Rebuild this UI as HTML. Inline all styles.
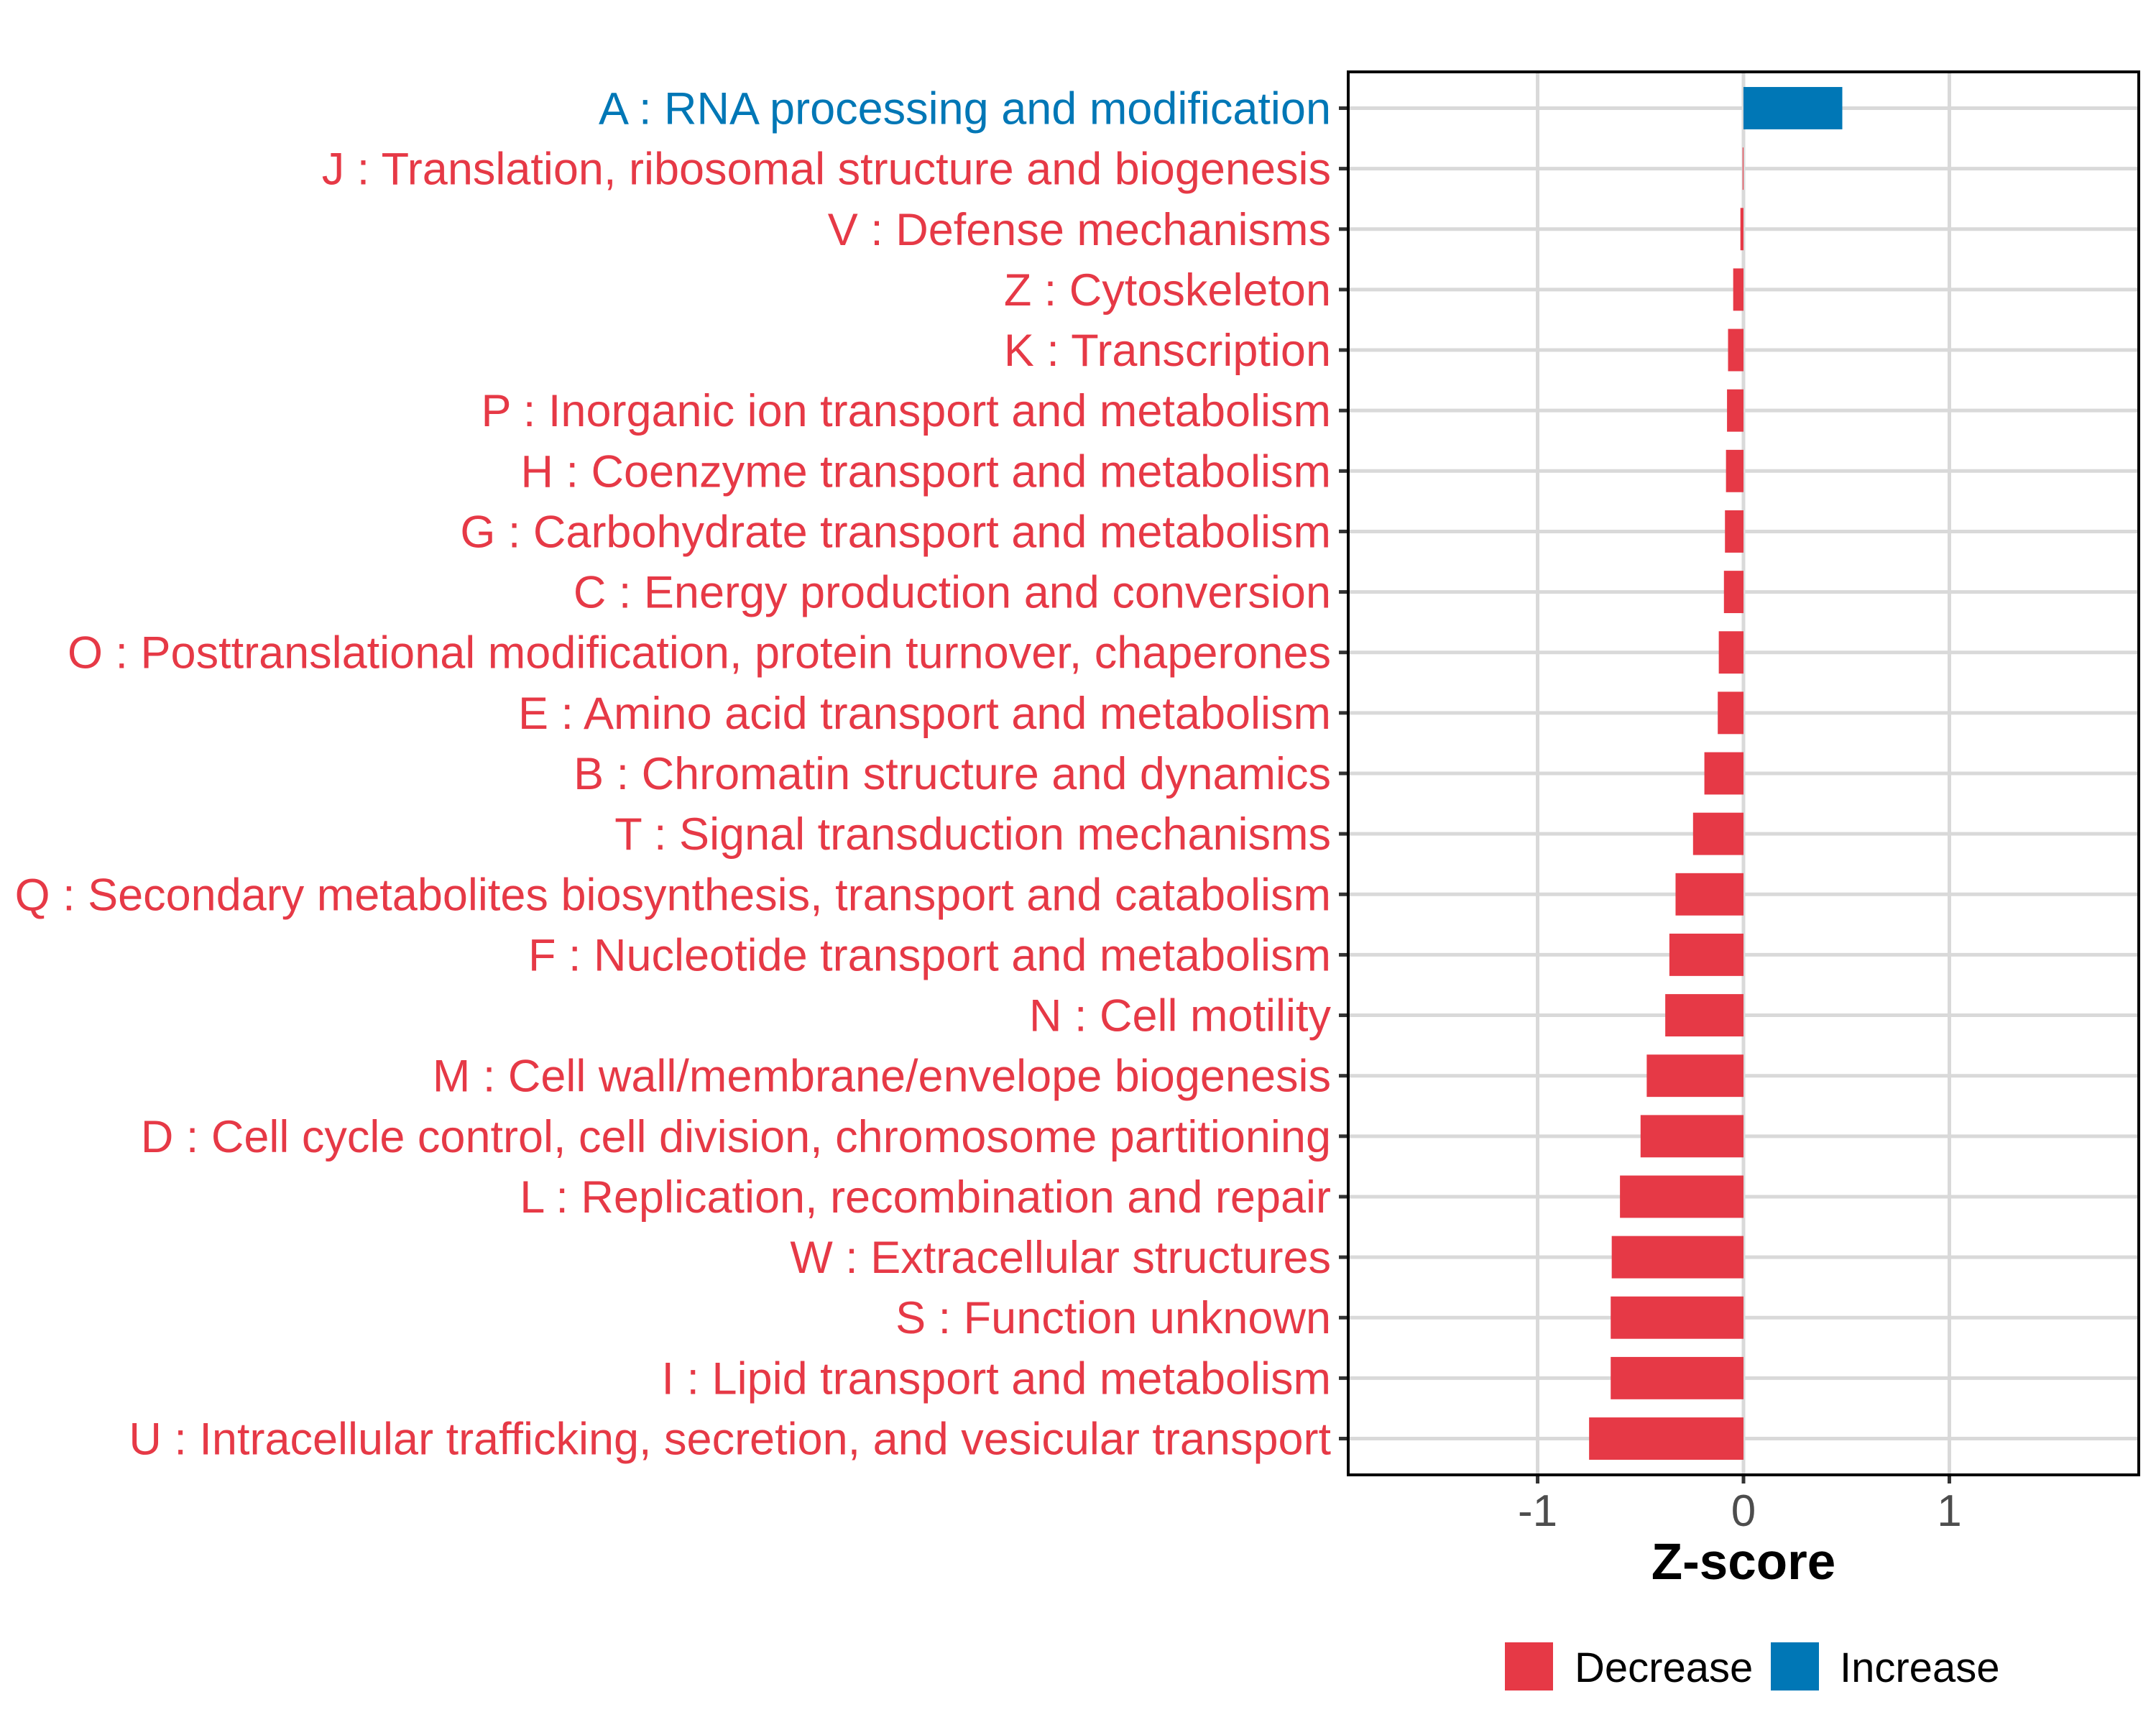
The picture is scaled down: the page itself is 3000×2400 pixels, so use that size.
<!DOCTYPE html>
<html><head><meta charset="utf-8"><style>
html,body{margin:0;padding:0;background:#fff;}
svg{display:block;font-family:"Liberation Sans",Arial,sans-serif;}
</style></head><body>
<svg id="chart" width="3000" height="2400" viewBox="0 0 3000 2400" xmlns="http://www.w3.org/2000/svg">
<rect x="0" y="0" width="3000" height="2400" fill="#fff"/>
<g id="grid"></g>
<g id="bars"></g>
<g id="ylabels"></g>
<g id="xaxis"></g>
<rect x="1876" y="100" width="1100" height="1952" fill="none" stroke="#000" stroke-width="4"/>
<text x="2426" y="2197" font-size="71" font-weight="bold" text-anchor="middle" fill="#000">Z-score</text>
<g>
<rect x="2094" y="2285" width="67" height="67" fill="#E63946"/>
<text x="2191" y="2340" font-size="58" fill="#000">Decrease</text>
<rect x="2464" y="2285" width="67" height="67" fill="#0077B6"/>
<text x="2560" y="2340" font-size="58" fill="#000">Increase</text>
</g>
</svg>
<script>
const categories = [
"A : RNA processing and modification",
"J : Translation, ribosomal structure and biogenesis",
"V : Defense mechanisms",
"Z : Cytoskeleton",
"K : Transcription",
"P : Inorganic ion transport and metabolism",
"H : Coenzyme transport and metabolism",
"G : Carbohydrate transport and metabolism",
"C : Energy production and conversion",
"O : Posttranslational modification, protein turnover, chaperones",
"E : Amino acid transport and metabolism",
"B : Chromatin structure and dynamics",
"T : Signal transduction mechanisms",
"Q : Secondary metabolites biosynthesis, transport and catabolism",
"F : Nucleotide transport and metabolism",
"N : Cell motility",
"M : Cell wall/membrane/envelope biogenesis",
"D : Cell cycle control, cell division, chromosome partitioning",
"L : Replication, recombination and repair",
"W : Extracellular structures",
"S : Function unknown",
"I : Lipid transport and metabolism",
"U : Intracellular trafficking, secretion, and vesicular transport"
];
const zscores = [0.48, -0.004, -0.015, -0.05, -0.075, -0.08, -0.085, -0.09, -0.095, -0.12, -0.125, -0.19, -0.245, -0.33, -0.36, -0.38, -0.47, -0.50, -0.60, -0.64, -0.645, -0.645, -0.75];
const xTicks = [-1, 0, 1];
const xTickLabels = ["-1", "0", "1"];

const NS = "http://www.w3.org/2000/svg";
const PL = 1876, PR = 2976, PT = 100, PB = 2052;
const XMIN = -1.92, XMAX = 1.92;
function xs(v){ return PL + (v - XMIN) / (XMAX - XMIN) * (PR - PL); }
const n = categories.length;
const step = (PB - PT) / (n - 1 + 1.2);
function ys(i){ return PT + (0.6 + i) * step; }
const RED = "#E63946", BLUE = "#0077B6";
function mk(tag, attrs, parent){
  const e = document.createElementNS(NS, tag);
  for (const k in attrs) e.setAttribute(k, attrs[k]);
  parent.appendChild(e);
  return e;
}
const grid = document.getElementById("grid");
const bars = document.getElementById("bars");
const ylab = document.getElementById("ylabels");
const xax = document.getElementById("xaxis");

xTicks.forEach((t, i) => {
  const g = mk("line", {x1: xs(t), x2: xs(t), y1: PT, y2: PB, stroke: "#D9D9D9", "stroke-width": 5}, grid);
  
  
  const tk = mk("line", {x1: xs(t), x2: xs(t), y1: PB, y2: PB + 12, stroke: "#333", "stroke-width": 5}, xax);
  
  
  const tl = mk("text", {x: xs(t), y: 2123, "font-size": 62, "text-anchor": "middle", fill: "#4D4D4D"}, xax);
  tl.textContent = xTickLabels[i];
  
  
});

categories.forEach((c, i) => {
  const y = ys(i);
  const gl = mk("line", {x1: PL, x2: PR, y1: y, y2: y, stroke: "#D9D9D9", "stroke-width": 5}, grid);
  
  
  const v = zscores[i];
  const col = v >= 0 ? BLUE : RED;
  const x0 = xs(Math.min(0, v)), x1 = xs(Math.max(0, v));
  const bh = step * 0.7;
  const r = mk("rect", {x: x0, y: y - bh / 2, width: Math.max(x1 - x0, 1), height: bh, fill: col}, bars);
  
  
  const tk = mk("line", {x1: PL - 13, x2: PL, y1: y, y2: y, stroke: "#333", "stroke-width": 5}, ylab);
  
  
  const t = mk("text", {x: 1852, y: y + 22, "font-size": 63, "text-anchor": "end", fill: col}, ylab);
  t.textContent = c;
  
  
});
</script>
</body></html>
